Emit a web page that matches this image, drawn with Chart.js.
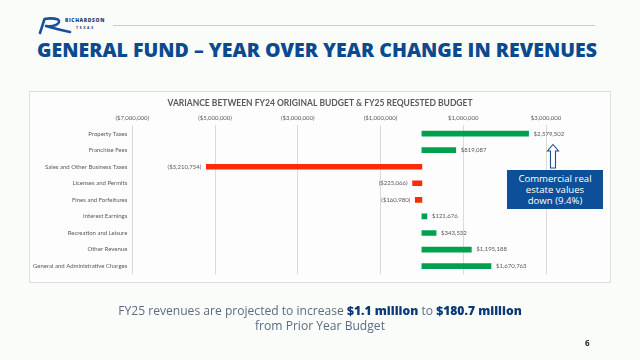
<!DOCTYPE html>
<html>
<head>
<meta charset="utf-8">
<script src="https://cdn.jsdelivr.net/npm/chart.js@4.4.1/dist/chart.umd.min.js"></script>
<style>
  html, body { margin:0; padding:0; }
  body { width:640px; height:360px; background:#fafcfa; position:relative; overflow:hidden; font-family:"Lato", sans-serif; }
  #title { position:absolute; left:37px; top:38px; font-family:"Open Sans", sans-serif; font-weight:800; font-size:19px; color:#0b4a8f; white-space:nowrap; transform-origin:0 0; line-height:24px; }
  #rule { position:absolute; left:113px; top:25px; width:482px; height:1px; background:#c9cbc9; }
  #box { position:absolute; left:29px; top:91px; width:580px; height:190px; border:1px solid #dcdedc; background:#fcfdfc; }
  #wrap { position:absolute; left:29px; top:91px; width:582px; height:192px; }
  #callout { position:absolute; left:507px; top:170px; width:96px; height:39px; background:#0d4f98; color:#fff; font-family:"Open Sans", sans-serif; font-size:9.6px; line-height:11.2px; text-align:center; padding-top:3px; box-sizing:border-box; }
  #foot1 { position:absolute; left:0; width:640px; top:302px; text-align:center; font-family:"Open Sans", sans-serif; font-size:12.1px; color:#5d6d80; white-space:nowrap; }
  #foot2 { position:absolute; left:0; width:640px; top:317px; text-align:center; font-family:"Open Sans", sans-serif; font-size:12.1px; color:#5d6d80; }
  #foot1 b { color:#0a3a78; font-weight:800; }
  #page { position:absolute; left:585px; top:337px; font-family:"Open Sans", sans-serif; font-weight:700; font-size:8px; color:#222; }
  #logoText1 { position:absolute; left:65px; top:17px; font-family:"Open Sans", sans-serif; font-weight:800; font-size:5px; letter-spacing:0.6px; color:#1a3f74; }
  #logoText2 { position:absolute; left:76px; top:25px; font-family:"Open Sans", sans-serif; font-weight:700; font-size:3.5px; letter-spacing:1.6px; color:#1a3f74; }
</style>
</head>
<body>
<svg width="640" height="360" style="position:absolute;left:0;top:0">
  <path d="M40 33 L44.5 19 Q52 17.5 58 19.5 Q61 22 56 25 Q51 27 46 26 Q56 29 70 32" fill="none" stroke="#1b5096" stroke-width="2.6" stroke-linecap="round" stroke-linejoin="round"/>
</svg>
<div id="logoText1">RICHARDSON</div>
<div id="logoText2">TEXAS</div>
<div id="rule"></div>
<div id="title"><span id="titleSpan">GENERAL FUND – YEAR OVER YEAR CHANGE IN REVENUES</span></div>
<div id="box"></div>
<div id="wrap"><canvas id="c"></canvas></div>
<svg width="640" height="360" style="position:absolute;left:0;top:0;pointer-events:none">
  <path d="M553 144.5 L558.5 151 L555.5 151 L555.5 168 L550.5 168 L550.5 151 L547.5 151 Z" fill="#ffffff" stroke="#1b4f93" stroke-width="1.1"/>
</svg>
<div id="callout">Commercial real<br>estate values<br>down (9.4%)</div>
<div id="foot1">FY25 revenues are projected to increase <b>$1.1 million</b> to <b>$180.7 million</b></div>
<div id="foot2">from Prior Year Budget</div>
<div id="page">6</div>
<script>
const categories = ["Property Taxes","Franchise Fees","Sales and Other Business Taxes","Licenses and Permits","Fines and Forfeitures","Interest Earnings","Recreation and Leisure","Other Revenue","General and Administrative Charges"];
const variance = [2579502, 819087, -5210754, -225066, -160980, 121676, 343532, 1195188, 1670763];
const xTicks = [-7000000, -5000000, -3000000, -1000000, 1000000, 3000000];
const chartTitle = "VARIANCE BETWEEN FY24 ORIGINAL BUDGET & FY25 REQUESTED BUDGET";

// fit page title to measured width
(function(){
  const s = document.getElementById('titleSpan');
  const w = s.getBoundingClientRect().width;
  const target = 560;
  document.getElementById('title').style.transform = 'scaleX(' + (target / w) + ')';
})();

function money(v) {
  const s = '$' + Math.abs(Math.round(v)).toLocaleString('en-US');
  return v < 0 ? '(' + s + ')' : s;
}

const GREEN = '#00a04e';
const RED = '#ff2a0a';
const labelFont = { family: 'Lato', size: 6 };

const chartText = {
  id: 'chartText',
  afterDraw(chart) {
    const ctx = chart.ctx;
    ctx.save();
    ctx.font = 'bold 8.5px Lato';
    ctx.fillStyle = '#595959';
    ctx.textAlign = 'center';
    ctx.textBaseline = 'middle';
    ctx.fillText(chartTitle, chart.width / 2, 12.5);
    ctx.restore();
  },
  afterDatasetsDraw(chart) {
    const ctx = chart.ctx;
    const meta = chart.getDatasetMeta(0);
    ctx.save();
    ctx.font = '6px Lato';
    ctx.fillStyle = '#595959';
    ctx.textBaseline = 'middle';
    meta.data.forEach((bar, i) => {
      const v = variance[i];
      if (v >= 0) { ctx.textAlign = 'left'; ctx.fillText(money(v), bar.x + 5, bar.y); }
      else { ctx.textAlign = 'right'; ctx.fillText(money(v), bar.x - 5, bar.y); }
    });
    ctx.restore();
  }
};

new Chart(document.getElementById('c'), {
  type: 'bar',
  data: {
    labels: categories,
    datasets: [{
      data: variance,
      backgroundColor: variance.map(v => v < 0 ? RED : GREEN),
      barThickness: 5,
      borderWidth: 0
    }]
  },
  options: {
    indexAxis: 'y',
    responsive: true,
    maintainAspectRatio: false,
    animation: false,
    devicePixelRatio: 1,
    layout: { padding: { top: 0, left: 0, right: 65, bottom: 7 } },
    plugins: {
      legend: { display: false },
      tooltip: { enabled: false },
      title: { display: false }
    },
    scales: {
      x: {
        type: 'linear',
        position: 'top',
        min: -7000000,
        max: 3000000,
        afterBuildTicks: (scale) => { scale.ticks = xTicks.map(v => ({ value: v })); },
        afterFit: (scale) => { scale.height = 34.3; },
        grid: { color: '#dadada', drawTicks: false, lineWidth: 1 },
        border: { display: false },
        ticks: {
          autoSkip: false, maxRotation: 0, padding: 4,
          color: '#595959', font: labelFont,
          callback: (v) => money(v)
        }
      },
      y: {
        type: 'category',
        position: 'left',
        afterFit: (scale) => { scale.width = 103.3; },
        grid: { display: false, drawTicks: false },
        border: { display: false },
        ticks: { padding: 5, color: '#595959', font: labelFont, autoSkip: false }
      }
    }
  },
  plugins: [chartText]
});
</script>
</body>
</html>
